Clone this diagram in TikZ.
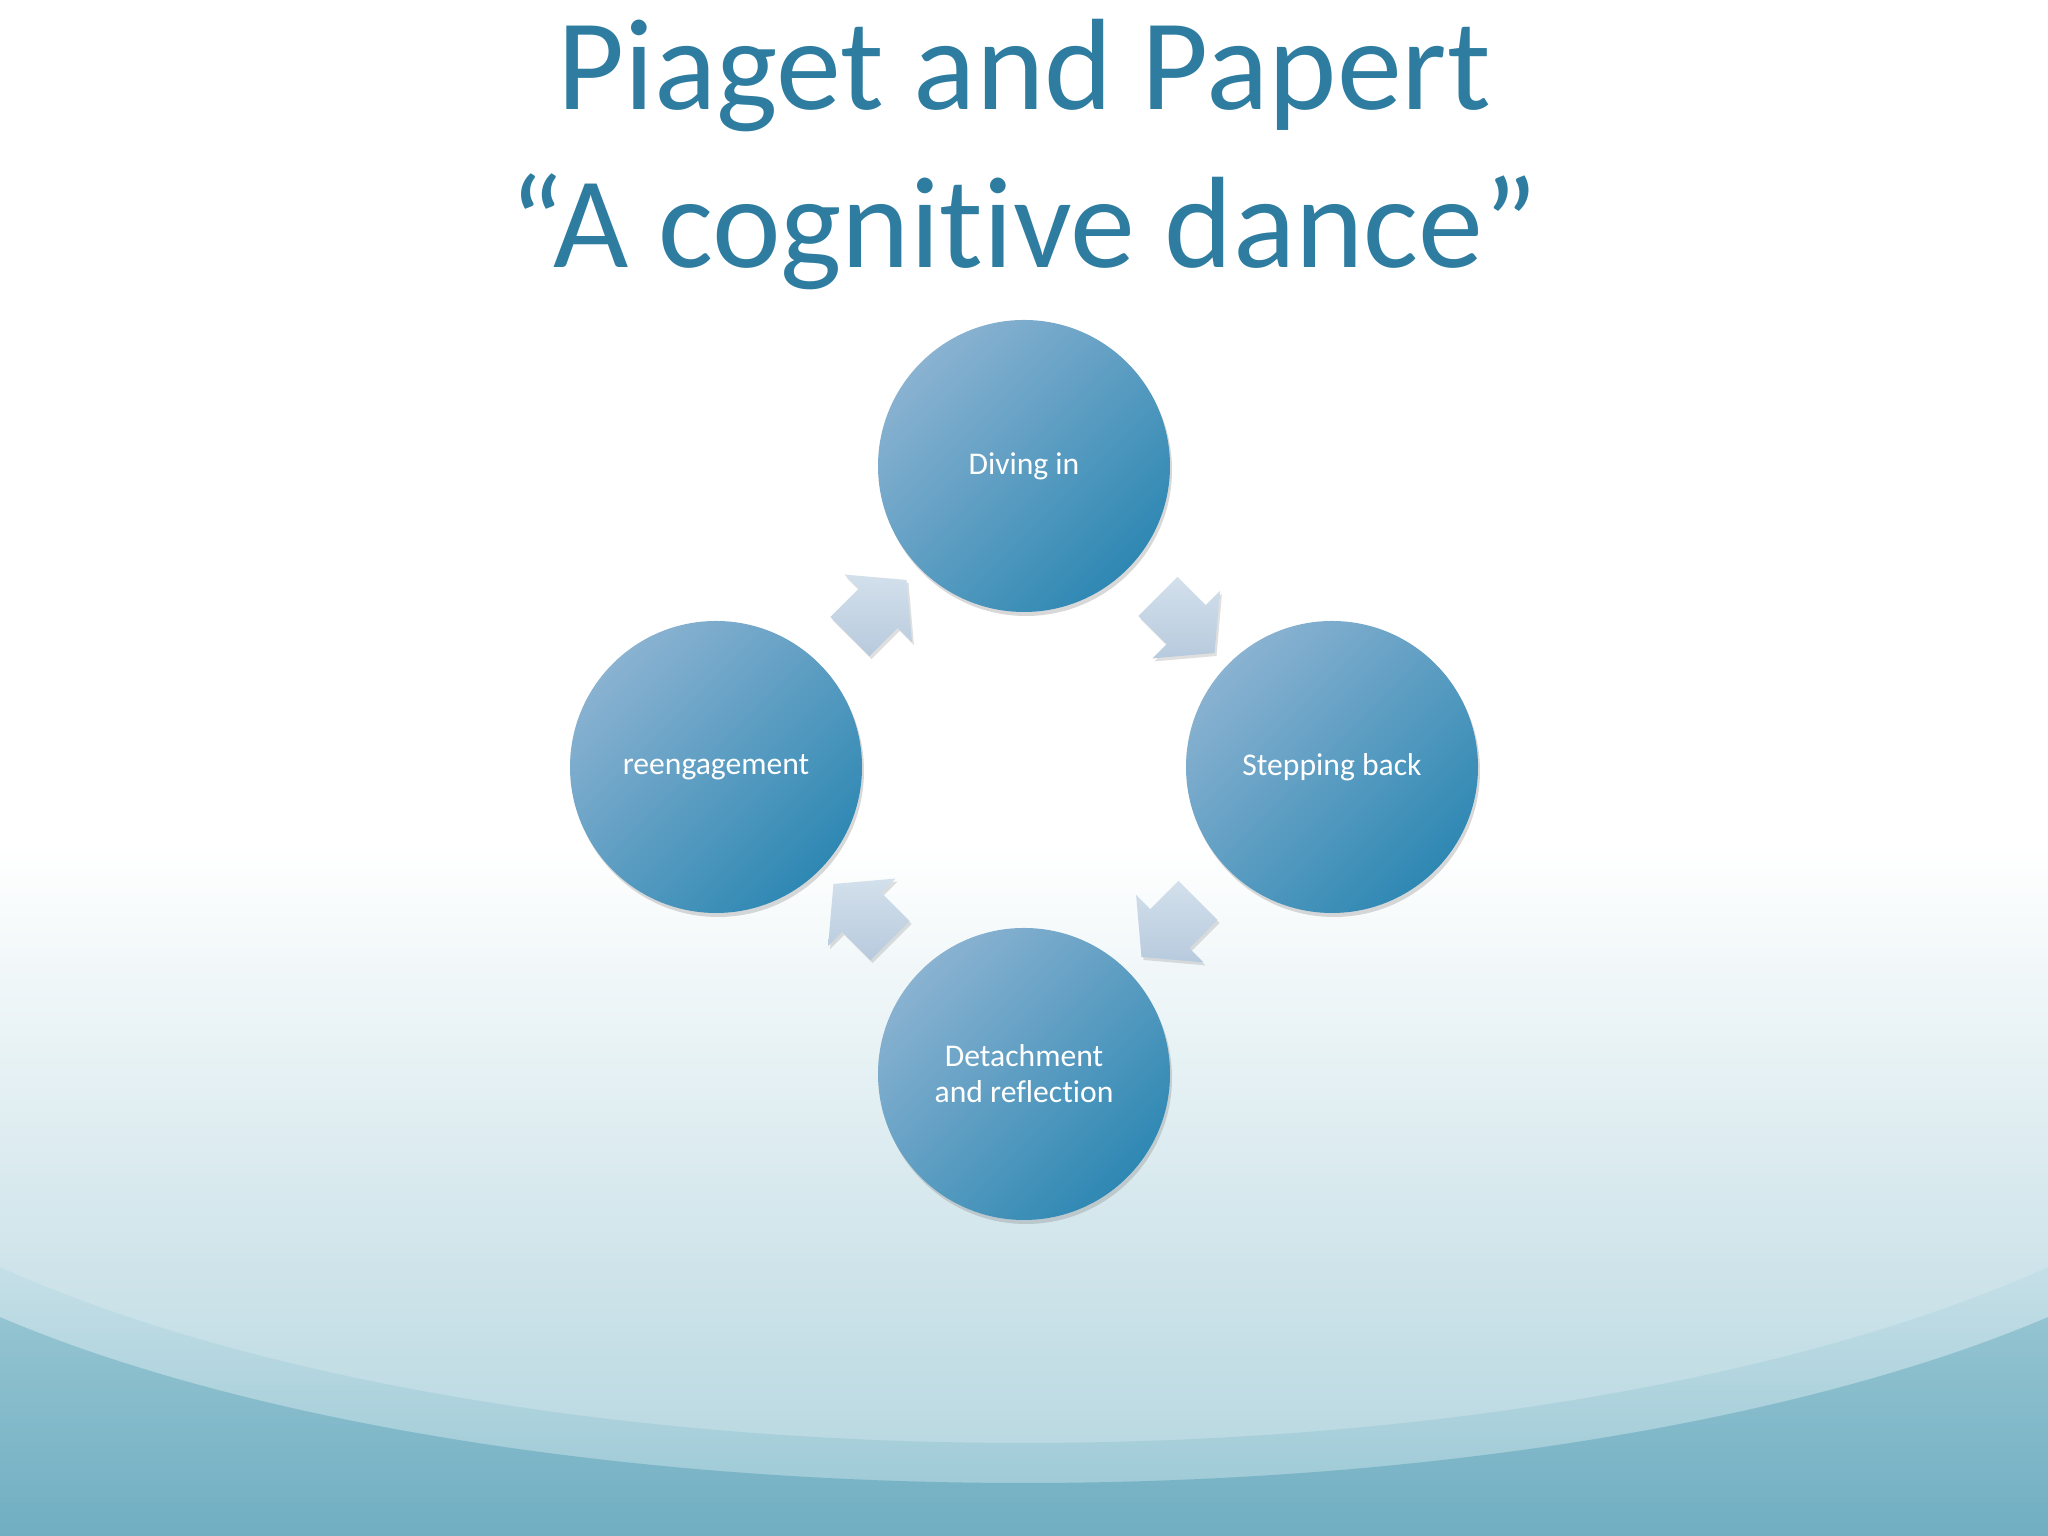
\documentclass[tikz,border=0pt]{standalone}
\usepackage{fontspec}
\setmainfont{Carlito}[Ligatures=NoCommon]
\usetikzlibrary{calc,shapes.arrows,shadows}
\definecolor{titleblue}{HTML}{2E7DA0}
\definecolor{ballight}{HTML}{8AB2D1}
\definecolor{ballmid}{HTML}{6CA3C8}
\definecolor{baldark}{HTML}{2E88B3}
\definecolor{arrlight}{HTML}{D3E0EC}
\definecolor{arrdark}{HTML}{B7CADD}
\definecolor{bowl}{HTML}{B0D3DD}
\definecolor{bowlmid}{HTML}{F0F6F9}
\definecolor{seatop}{HTML}{C5DFE7}
\definecolor{seabot}{HTML}{96C6D3}
\definecolor{deeptop}{HTML}{94C4D1}
\definecolor{deepbot}{HTML}{70AEC2}
\tikzset{
	ball/.style={circle,minimum size=2.92cm,inner sep=0pt,align=center,
		top color=ballight,middle color=ballmid,bottom color=baldark,shading angle=45,
		text=white,font=\fontsize{9}{10.2}\selectfont,
		drop shadow={shadow xshift=0.02cm,shadow yshift=-0.04cm,opacity=0.3}},
	cyclearrow/.style={single arrow,inner xsep=0pt,inner ysep=0.27cm,minimum height=0.8cm,
		single arrow head extend=0.2cm,single arrow tip angle=100,
		top color=arrlight,bottom color=arrdark,
		drop shadow={shadow xshift=0.02cm,shadow yshift=-0.03cm,opacity=0.25}},
}
\begin{document}
\begin{tikzpicture}
		%\draw [help lines] (0,0) grid (20,15);
		\def\w{20.48}
		\def\h{15.36}
		\def\dx{3.08}	% half width of the dance
		\def\dy{3.04}	% half height of the dance
		\useasboundingbox (0,0) rectangle (\w,\h);
		% background
			\fill [white] (0,0) rectangle (\w,\h);
			\shade [top color=white,middle color=bowlmid,bottom color=bowl] (0,0) rectangle (\w,6.9);
			\coordinate (wave1) at (10.24,5.51);
			\coordinate (wave2) at (10.24,4.85);
			\shade [top color=seatop,bottom color=seabot] (0,0) -- ($(wave1)+(218:13 and 4.58)$)
				arc [start angle=218,end angle=322,x radius=13,y radius=4.58] -- (\w,0) -- cycle;
			\shade [top color=deeptop,bottom color=deepbot] (0,0) -- ($(wave2)+(218:13 and 4.32)$)
				arc [start angle=218,end angle=322,x radius=13,y radius=4.32] -- (\w,0) -- cycle;
		% title
			\node [anchor=base,text=titleblue,font=\fontsize{37}{44}\selectfont] (title1) at (10.24,14.26) {Piaget and Papert};
			\node [anchor=base,text=titleblue,font=\fontsize{37}{44}\selectfont] (title2) at (10.24,12.68) {“A cognitive dance”};
		% the four steps
			\coordinate (mid) at (10.24,7.66);
			\node [ball] (diving) at ($(mid)+(0,\dy)$) {Diving in};
			\node [ball] (stepping) at ($(mid)+(\dx,0.03)$) {Stepping back};
			\node [ball] (detach) at ($(mid)+(0,-\dy)$) {Detachment\\and reflection};
			\node [ball] (reengage) at ($(mid)+(-\dx,0.03)$) {reengagement};
		% arrows
			\node [cyclearrow,rotate=-45] (a1) at ($(diving)!0.5!(stepping)$) {};
			\node [cyclearrow,rotate=-135] (a2) at ($(stepping)!0.5!(detach)$) {};
			\node [cyclearrow,rotate=135] (a3) at ($(detach)!0.5!(reengage)$) {};
			\node [cyclearrow,rotate=45] (a4) at ($(reengage)!0.5!(diving)$) {};
	\end{tikzpicture}
\end{document}
